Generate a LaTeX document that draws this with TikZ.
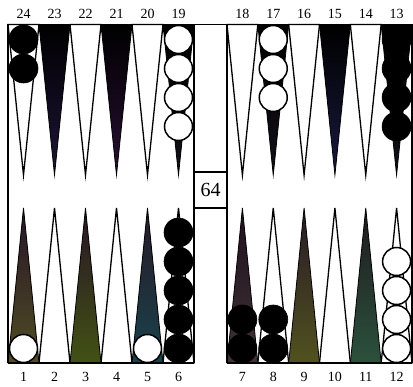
\documentclass[tikz,border=0pt]{standalone}
\usepackage{fontspec}
\setmainfont{Liberation Serif}
\begin{document}
\begin{tikzpicture}[x=1pt,y=-1pt,
  lbl/.style={font=\fontsize{14}{14}\selectfont, inner sep=0pt},
  cube/.style={draw=black, line width=1.1pt, minimum width=33pt, minimum height=36pt, inner sep=0pt, font=\fontsize{20}{20}\selectfont},
  wpt/.style={draw=black, line width=1.3pt, fill=white, line join=miter},
  dpt/.style={draw=black, line width=0.8pt, line join=miter},
  bchk/.style={fill=black, draw=black, line width=0.6pt},
  wchk/.style={fill=white, draw=black, line width=1.5pt},
  rim/.style={line width=1.3pt, draw=black}]
\useasboundingbox (0,0) rectangle (413,387);
\fill[white] (0,0) rectangle (413,387);

% ---- top points, left half (24..19)
\foreach \k in {0,2,4} {
  \pgfmathsetmacro\a{8+31*\k}
  \draw[wpt] (\a,24.5) -- (\a+31,24.5) -- (\a+15.5,175) -- cycle;
}
\shadedraw[dpt, top color=black, bottom color={rgb,1:red,0.12;green,0.08;blue,0.22}] (39,24.5) -- (70,24.5) -- (54.5,175) -- cycle;
\shadedraw[dpt, top color=black, bottom color={rgb,1:red,0.16;green,0.06;blue,0.2}] (101,24.5) -- (132,24.5) -- (116.5,175) -- cycle;
\shadedraw[dpt, top color=black, bottom color={rgb,1:red,0.08;green,0.06;blue,0.1}] (163,24.5) -- (194,24.5) -- (178.5,175) -- cycle;

% ---- top points, right half (18..13)
\foreach \k in {0,2,4} {
  \pgfmathsetmacro\a{227+30.833*\k}
  \draw[wpt] (\a,24.5) -- (\a+30.833,24.5) -- (\a+15.417,175) -- cycle;
}
\shadedraw[dpt, top color=black, bottom color={rgb,1:red,0.08;green,0.06;blue,0.1}] (257.83,24.5) -- (288.67,24.5) -- (273.25,175) -- cycle;
\shadedraw[dpt, top color=black, bottom color={rgb,1:red,0.1;green,0.1;blue,0.25}] (319.5,24.5) -- (350.33,24.5) -- (334.92,175) -- cycle;
\shadedraw[dpt, top color=black, bottom color={rgb,1:red,0.08;green,0.06;blue,0.1}] (381.17,24.5) -- (412,24.5) -- (396.58,175) -- cycle;

% ---- bottom points, left half (1..6)
\foreach \k in {1,3,5} {
  \pgfmathsetmacro\a{8+31*\k}
  \draw[wpt] (\a,363) -- (\a+31,363) -- (\a+15.5,208) -- cycle;
}
\shadedraw[dpt, top color={rgb,1:red,0.15;green,0.08;blue,0.15}, bottom color={rgb,1:red,0.32;green,0.3;blue,0.14}] (8,363) -- (39,363) -- (23.5,208) -- cycle;
\shadedraw[dpt, top color={rgb,1:red,0.15;green,0.08;blue,0.15}, bottom color={rgb,1:red,0.26;green,0.32;blue,0.08}] (70,363) -- (101,363) -- (85.5,208) -- cycle;
\shadedraw[dpt, top color={rgb,1:red,0.15;green,0.1;blue,0.15}, bottom color={rgb,1:red,0.1;green,0.26;blue,0.3}] (132,363) -- (163,363) -- (147.5,208) -- cycle;

% ---- bottom points, right half (7..12)
\foreach \k in {1,3,5} {
  \pgfmathsetmacro\a{227+30.833*\k}
  \draw[wpt] (\a,363) -- (\a+30.833,363) -- (\a+15.417,208) -- cycle;
}
\shadedraw[dpt, top color={rgb,1:red,0.12;green,0.06;blue,0.12}, bottom color={rgb,1:red,0.25;green,0.2;blue,0.2}] (227,363) -- (257.83,363) -- (242.42,208) -- cycle;
\shadedraw[dpt, top color={rgb,1:red,0.15;green,0.1;blue,0.15}, bottom color={rgb,1:red,0.32;green,0.32;blue,0.12}] (288.67,363) -- (319.5,363) -- (304.08,208) -- cycle;
\shadedraw[dpt, top color={rgb,1:red,0.12;green,0.1;blue,0.12}, bottom color={rgb,1:red,0.17;green,0.32;blue,0.24}] (350.33,363) -- (381.17,363) -- (365.75,208) -- cycle;

% ---- checkers
% point 24: 2 black
\foreach \i in {0,1} \draw[bchk] (23.5,39.5+29*\i) circle (14.5);
% point 19: 4 white
\foreach \i in {0,...,3} \draw[wchk] (178.5,39.5+29*\i) circle (14);
% point 17: 3 white
\foreach \i in {0,...,2} \draw[wchk] (273.25,39.5+29*\i) circle (14);
% point 13: 4 black
\foreach \i in {0,...,3} \draw[bchk] (396.58,39.5+29*\i) circle (14.5);
% point 1: 1 white
\draw[wchk] (23.5,348.5) circle (14);
% point 5: 1 white
\draw[wchk] (147.5,348.5) circle (14);
% point 6: 5 black
\foreach \i in {0,...,4} \draw[bchk] (178.5,348.5-29*\i) circle (14.5);
% point 7: 2 black
\foreach \i in {0,1} \draw[bchk] (242.42,348.5-29*\i) circle (14.5);
% point 8: 2 black
\foreach \i in {0,1} \draw[bchk] (273.25,348.5-29*\i) circle (14.5);
% point 12: 4 white
\foreach \i in {0,...,3} \draw[wchk] (396.58,348.5-29*\i) circle (14);

% ---- board rim
\draw[rim] (8,24.5) -- (412,24.5);
\draw[rim] (8,363) -- (194,363);
\draw[rim] (227,363) -- (412,363);
\draw[rim] (8,24.5) -- (8,363);
\draw[rim] (194,24.5) -- (194,363);
\draw[rim] (227,24.5) -- (227,363);
\draw[rim] (412,24.5) -- (412,363);

% ---- doubling cube
\node[cube] (dc) at (210.5,190) {64};

% ---- labels
\foreach \k/\n in {0/24,1/23,2/22,3/21,4/20,5/19}
  \node[lbl] (l\n) at (23.5+31*\k,14) {\n};
\foreach \k/\n in {0/18,1/17,2/16,3/15,4/14,5/13}
  \node[lbl] (l\n) at (242.42+30.833*\k,14) {\n};
\foreach \k/\n in {0/1,1/2,2/3,3/4,4/5,5/6}
  \node[lbl] (l\n) at (23.5+31*\k,377) {\n};
\foreach \k/\n in {0/7,1/8,2/9,3/10,4/11,5/12}
  \node[lbl] (l\n) at (242.42+30.833*\k,377) {\n};
\end{tikzpicture}
\end{document}
